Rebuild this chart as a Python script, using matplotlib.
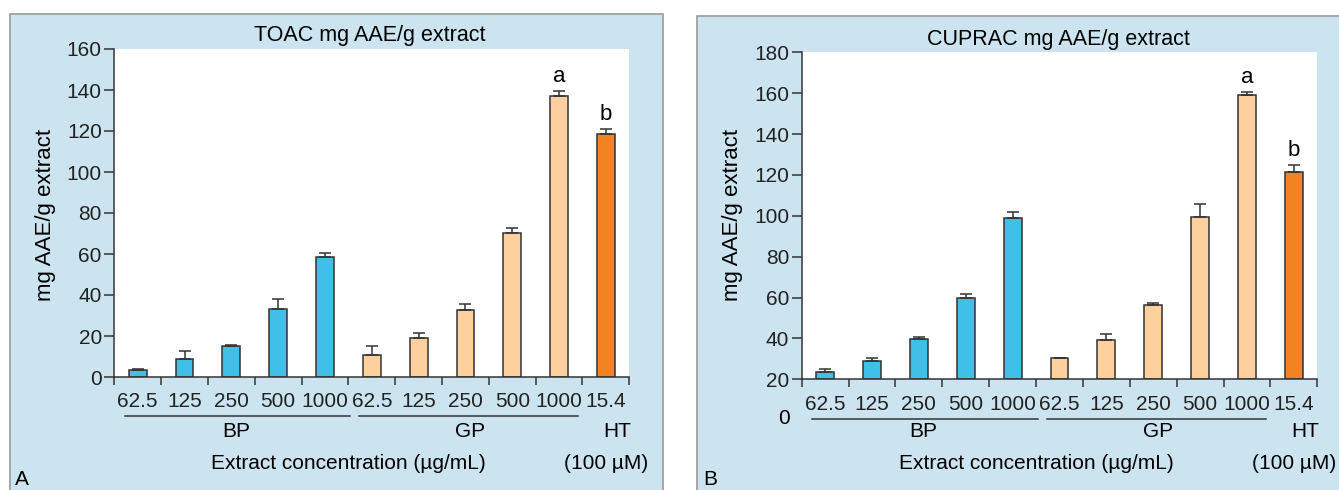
import numpy as np
import matplotlib
matplotlib.use("Agg")
import matplotlib.pyplot as plt
from matplotlib.patches import Rectangle

plt.rcParams['font.family'] = ['Liberation Sans', 'DejaVu Sans']

W, H = 1339, 490

# data
conc_labels = ["62.5", "125", "250", "500", "1000", "62.5", "125", "250", "500", "1000", "15.4"]
groups = ["BP"] * 5 + ["GP"] * 5 + ["HT"]

toac_vals = [3.5, 9.0, 15.0, 33.0, 58.5, 10.5, 19.0, 32.5, 70.0, 137.0, 118.5]
toac_err = [0.5, 3.5, 0.5, 5.0, 2.0, 4.5, 2.5, 3.0, 2.5, 2.5, 2.5]

cuprac_vals = [23.5, 29.0, 39.5, 60.0, 99.0, 30.5, 39.0, 56.5, 99.5, 159.0, 121.5]
cuprac_err = [1.5, 1.5, 1.2, 1.5, 2.8, 0.0, 3.0, 1.0, 6.5, 1.5, 3.5]

letters = {9: "a", 10: "b"}

col = {"BP": "#40bfe8", "GP": "#fed09d", "HT": "#f28322"}
bg = "#cce4f0"
dark = "#333333"
fs = 15


def fx(x):
    return x / W


def fy(y):
    return 1 - y / H


fig = plt.figure(figsize=(W / 100, H / 100), dpi=100)
fig.patch.set_facecolor("white")

# light blue panel boxes (behind the axes)
for x0, x1, y0 in [(10, 663, 14), (697, 1345, 16)]:
    fig.patches.append(Rectangle((fx(x0), fy(H + 5)), fx(x1 - x0), (H + 5 - y0) / H,
                                 transform=fig.transFigure, facecolor=bg,
                                 edgecolor="#9a9a9a", linewidth=1.2, zorder=-10))


def panel(rect, vals, err, base, top, yticks, title, title_xy, ylab_x, x0px):
    ax = fig.add_axes(rect)
    ax.set_facecolor("white")
    x = np.arange(len(vals))
    colors = [col[g] for g in groups]
    v = np.array(vals)
    ax.bar(x, v - base, bottom=base, width=0.38, color=colors, edgecolor=dark, linewidth=1.1, zorder=2)
    e = np.array(err)
    ax.errorbar(x, v, yerr=[np.zeros_like(e), e], fmt="none", ecolor=dark,
                elinewidth=1.1, capsize=4, capthick=1.1, zorder=3)
    for i, t in letters.items():
        ax.annotate(t, (x[i], v[i] + e[i]), xytext=(0, 3), textcoords="offset points",
                    ha="center", va="bottom", fontsize=16)
    ax.set_xlim(-0.5, len(vals) - 0.5)
    ax.set_ylim(base, top)
    ax.set_yticks(yticks)
    ax.set_xticks(np.arange(-0.5, len(vals)), labels=[])
    ax.set_xticks(x, labels=conc_labels, minor=True)
    ax.tick_params(axis="x", which="major", direction="out", length=6, width=1.1, color=dark)
    ax.tick_params(axis="x", which="minor", length=0, pad=11, labelsize=fs, labelcolor="#222222")
    ax.tick_params(axis="y", direction="out", length=7, width=1.1, color=dark,
                   labelsize=fs, labelcolor="#222222", pad=2)
    for s in ["top", "right"]:
        ax.spines[s].set_visible(False)
    for s in ["left", "bottom"]:
        ax.spines[s].set_color(dark)
        ax.spines[s].set_linewidth(1.1)
        ax.spines[s].set_zorder(4)

    fig.text(fx(title_xy[0]), fy(title_xy[1]), title, ha="center", va="center", fontsize=15.5)
    fig.text(fx(ylab_x), fy(215), "mg AAE/g extract", rotation=90, ha="center", va="center", fontsize=16)

    # group underlines and labels
    trans = ax.get_xaxis_transform()
    for a, b in [(-0.27, 4.54), (4.73, 9.41)]:
        ax.plot([a, b], [-0.12, -0.12], transform=trans, color=dark, lw=1.1, clip_on=False)
    px_per = rect[2] * W / len(vals)
    for name, c in [("BP", 2.1), ("GP", 7.1), ("HT", 10.25)]:
        fig.text(fx(x0px + (c + 0.5) * px_per), fy(431), name, ha="center", va="center", fontsize=fs)
    fig.text(fx(x0px + 5.0 * px_per), fy(463), "Extract concentration (\u00b5g/mL)",
             ha="center", va="center", fontsize=fs)
    fig.text(fx(x0px + 10.5 * px_per), fy(463), "(100 \u00b5M)", ha="center", va="center", fontsize=fs)
    return ax


ax1 = panel([fx(114.3), fy(377), fx(515), 328 / H], toac_vals, toac_err, 0, 160,
            np.arange(0, 161, 20), "TOAC mg AAE/g extract", (370, 35), 46, 114.3)
ax2 = panel([fx(801.7), fy(379.3), fx(515.6), 327 / H], cuprac_vals, cuprac_err, 20, 180,
            np.arange(20, 181, 20), "CUPRAC mg AAE/g extract", (1058, 40), 732, 801.7)

fig.text(fx(784), fy(418), "0", ha="center", va="center", fontsize=fs)
fig.text(fx(22), fy(479), "A", ha="center", va="center", fontsize=fs)
fig.text(fx(710), fy(479), "B", ha="center", va="center", fontsize=fs)

fig.savefig("out.png", dpi=100)
